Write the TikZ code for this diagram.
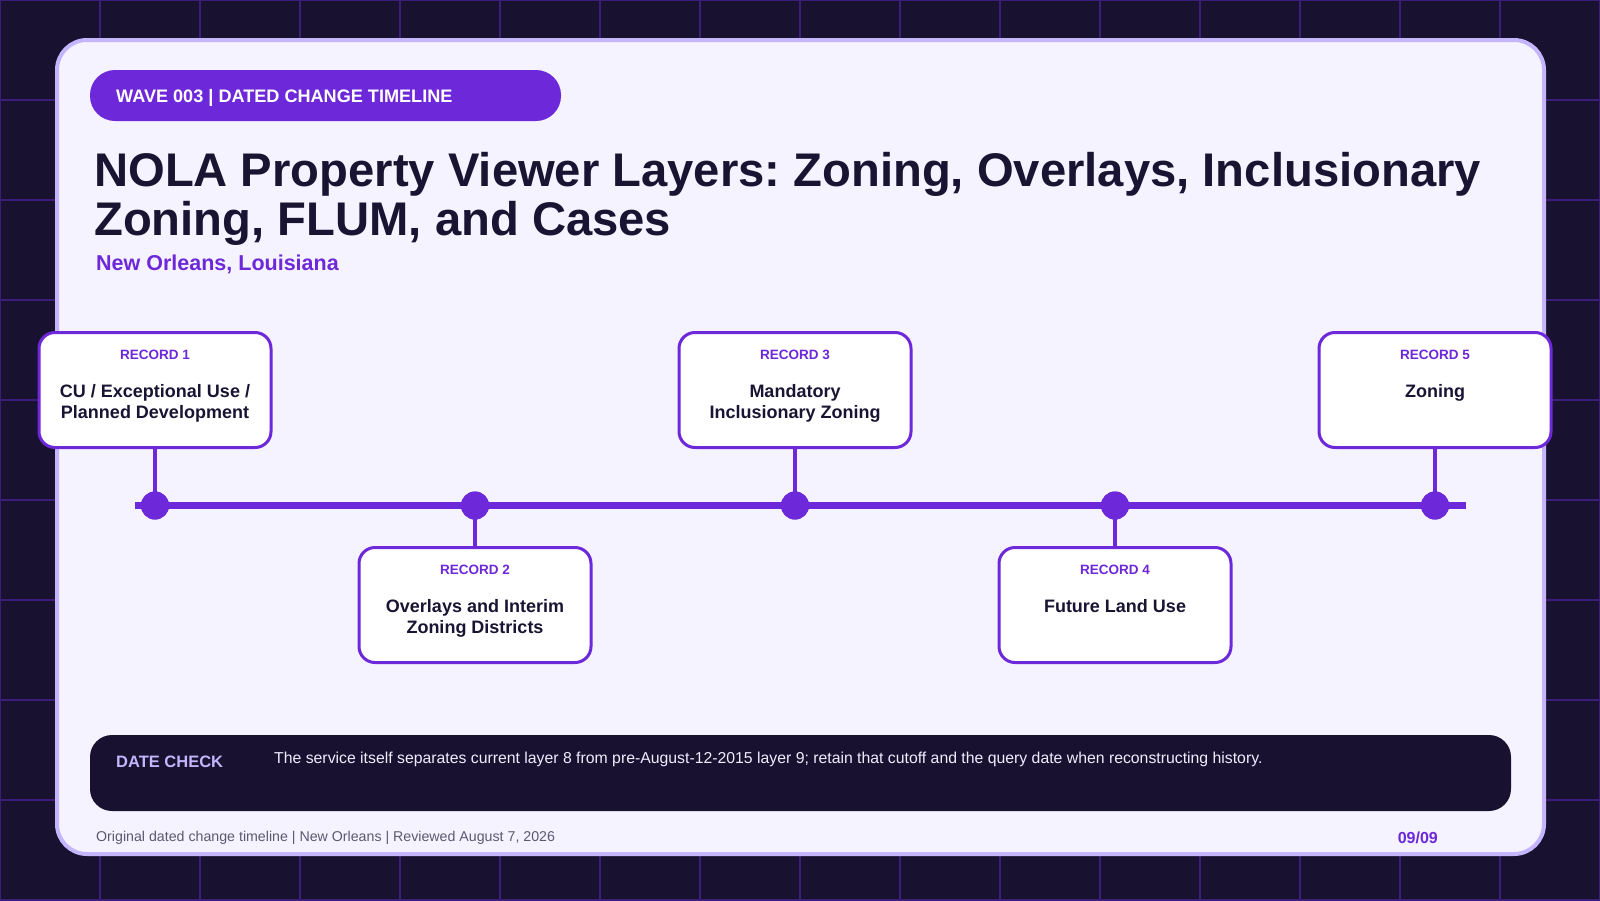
\documentclass[tikz,border=0pt]{standalone}
\usepackage{fontspec}
\setmainfont{Liberation Sans}
\frenchspacing
\definecolor{bgdark}{RGB}{24,18,48}
\definecolor{gridc}{RGB}{58,30,122}
\definecolor{cardfill}{RGB}{245,243,255}
\definecolor{cardline}{RGB}{196,181,253}
\definecolor{violet}{RGB}{109,40,217}
\definecolor{inkdark}{RGB}{26,20,51}
\definecolor{footgray}{RGB}{92,88,112}
\definecolor{desctext}{RGB}{240,236,255}
\tikzset{
  recbox/.style={draw=violet, line width=3pt, fill=white, rounded corners=16pt,
    minimum width=232pt, minimum height=115pt, inner sep=0pt},
  reclabel/.style={anchor=base, inner sep=0pt, text=violet, font=\bfseries\fontsize{13.5}{16}\selectfont},
  rectext/.style={anchor=base, inner sep=0pt, text=inkdark, font=\bfseries\fontsize{18}{21}\selectfont},
  tdot/.style={circle, fill=violet, minimum size=28pt, inner sep=0pt},
  conn/.style={draw=violet, line width=4pt},
}
\begin{document}
\begin{tikzpicture}[x=1pt,y=-1pt]
\useasboundingbox (0,0) rectangle (1600,900);
\fill[bgdark] (0,0) rectangle (1600,900);
\foreach \i in {0,100,...,1600} \draw[gridc, line width=1.2pt] (\i,0) -- (\i,900);
\foreach \j in {0,100,...,900} \draw[gridc, line width=1.2pt] (0,\j) -- (1600,\j);
% card
\draw[cardline, fill=cardfill, line width=4pt, rounded corners=30pt] (57,40) rectangle (1544,854);
% header pill
\fill[violet, rounded corners=25pt] (90,70) rectangle (561,121);
\node[anchor=base west, inner sep=0pt, text=white, font=\bfseries\fontsize{18.1}{21}\selectfont] (hdr) at (116,102) {WAVE 003 | DATED CHANGE TIMELINE};
% title
\node[anchor=base west, inner sep=0pt, text=inkdark, font=\bfseries\fontsize{47.2}{49}\selectfont] (title1) at (94,186) {NOLA Property Viewer Layers: Zoning, Overlays, Inclusionary};
\node[anchor=base west, inner sep=0pt, text=inkdark, font=\bfseries\fontsize{47.2}{49}\selectfont] (title2) at (94,235) {Zoning, FLUM, and Cases};
\node[anchor=base west, inner sep=0pt, text=violet, font=\bfseries\fontsize{21.5}{25}\selectfont] (subtitle) at (96,270) {New Orleans, Louisiana};
% timeline
\coordinate (tlstart) at (135,505.5);
\coordinate (tlend) at (1466,505.5);
\draw[violet, line width=7pt] (tlstart) -- (tlend);
% boxes
\node[recbox] (b1) at (155,390) {};
\node[recbox] (b2) at (475,605) {};
\node[recbox] (b3) at (795,390) {};
\node[recbox] (b4) at (1115,605) {};
\node[recbox] (b5) at (1435,390) {};
% dots
\node[tdot] (d1) at (155,505.5) {};
\node[tdot] (d2) at (475,505.5) {};
\node[tdot] (d3) at (795,505.5) {};
\node[tdot] (d4) at (1115,505.5) {};
\node[tdot] (d5) at (1435,505.5) {};
% connectors
\draw[conn] (b1.south) -- (d1.center);
\draw[conn] (d2.center) -- (b2.north);
\draw[conn] (b3.south) -- (d3.center);
\draw[conn] (d4.center) -- (b4.north);
\draw[conn] (b5.south) -- (d5.center);
% redraw dots above connectors
\node[tdot] (d1t) at (d1) {};
\node[tdot] (d2t) at (d2) {};
\node[tdot] (d3t) at (d3) {};
\node[tdot] (d4t) at (d4) {};
\node[tdot] (d5t) at (d5) {};
% box texts
\node[reclabel] (l1) at (155,359) {RECORD 1};
\node[rectext] (t1a) at (155,397) {CU / Exceptional Use /};
\node[rectext] (t1b) at (155,418) {Planned Development};
\node[reclabel] (l2) at (475,574) {RECORD 2};
\node[rectext] (t2a) at (475,612) {Overlays and Interim};
\node[rectext] (t2b) at (475,633) {Zoning Districts};
\node[reclabel] (l3) at (795,359) {RECORD 3};
\node[rectext] (t3a) at (795,397) {Mandatory};
\node[rectext] (t3b) at (795,418) {Inclusionary Zoning};
\node[reclabel] (l4) at (1115,574) {RECORD 4};
\node[rectext] (t4a) at (1115,612) {Future Land Use};
\node[reclabel] (l5) at (1435,359) {RECORD 5};
\node[rectext] (t5a) at (1435,397) {Zoning};
% date check panel
\fill[bgdark, rounded corners=22pt] (90,735) rectangle (1511,811);
\node[anchor=base west, inner sep=0pt, text=cardline, font=\bfseries\fontsize{16.5}{20}\selectfont] (dclabel) at (116,767) {DATE CHECK};
\node[anchor=base west, inner sep=0pt, text=desctext, font=\fontsize{15.8}{19}\selectfont] (dctext) at (274,763) {The service itself separates current layer 8 from pre-August-12-2015 layer 9; retain that cutoff and the query date when reconstructing history.};
% footer
\node[anchor=base west, inner sep=0pt, text=footgray, font=\fontsize{14.2}{17}\selectfont] (foot) at (96,841) {Original dated change timeline | New Orleans | Reviewed August 7, 2026};
\node[anchor=base east, inner sep=0pt, text=violet, font=\bfseries\fontsize{16}{19}\selectfont] (page) at (1438,843) {09/09};
\end{tikzpicture}
\end{document}
